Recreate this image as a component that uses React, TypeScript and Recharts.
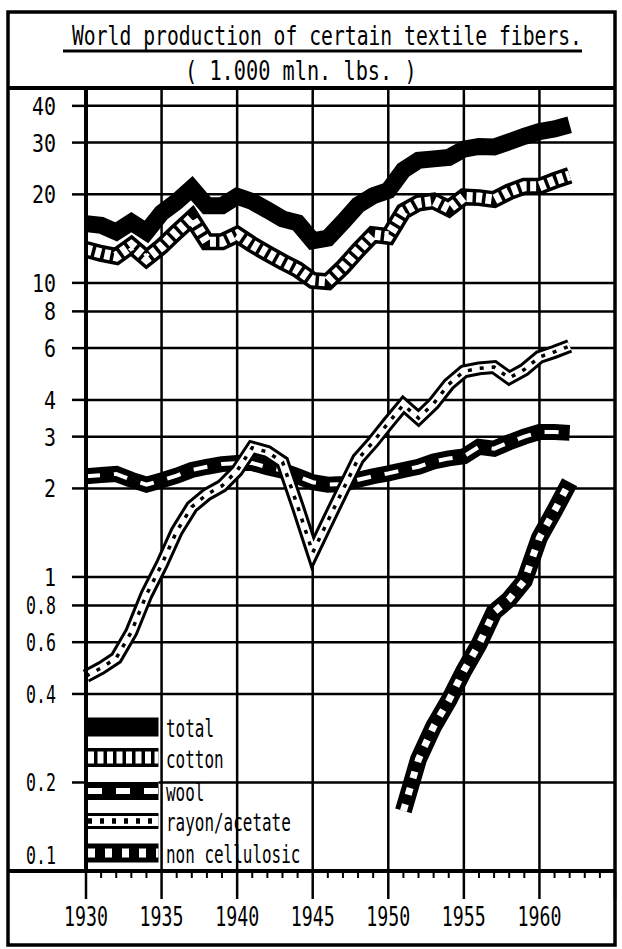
import React from "react";
import { LineChart, Line, XAxis, YAxis, CartesianGrid } from "recharts";

// world production, 1,000 mln lbs
const years = [
  1930, 1931, 1932, 1933, 1934, 1935, 1936, 1937, 1938, 1939, 1940,
  1941, 1942, 1943, 1944, 1945, 1946, 1947, 1948, 1949, 1950,
  1951, 1952, 1953, 1954, 1955, 1956, 1957, 1958, 1959, 1960, 1961, 1962,
];
const total = [
  15.9, 15.7, 14.9, 16.1, 14.9, 17.3, 18.9, 21.0, 18.3, 18.3, 19.7,
  18.9, 17.7, 16.5, 16.0, 13.9, 14.2, 16.1, 18.4, 19.8, 20.6,
  24.2, 26.1, 26.4, 26.7, 28.5, 29.1, 29.0, 30.2, 31.5, 32.7, 33.4, 34.5,
];
const cotton = [
  13.0, 12.6, 12.3, 13.4, 12.1, 13.3, 14.9, 16.6, 13.8, 13.8, 14.6,
  13.5, 12.6, 11.8, 11.1, 10.2, 10.1, 11.3, 12.9, 14.6, 14.4,
  17.5, 18.7, 19.0, 17.9, 19.6, 19.5, 19.2, 20.4, 21.3, 21.3, 22.3, 23.2,
];
const wool = [
  2.2, 2.22, 2.24, 2.14, 2.06, 2.13, 2.21, 2.31, 2.37, 2.42, 2.44,
  2.44, 2.36, 2.3, 2.2, 2.1, 2.06, 2.07, 2.14, 2.2, 2.25,
  2.31, 2.37, 2.47, 2.53, 2.57, 2.77, 2.73, 2.87, 3.0, 3.11, 3.11, 3.09,
];
const rayon = [
  0.46, 0.49, 0.53, 0.65, 0.87, 1.1, 1.43, 1.73, 1.91, 2.04, 2.3,
  2.75, 2.66, 2.46, 1.74, 1.21, 1.55, 1.98, 2.52, 2.88, 3.34,
  3.85, 3.47, 3.89, 4.52, 5.0, 5.12, 5.17, 4.75, 5.07, 5.6, 5.83, 6.1,
];
const nonCellYears = [1951, 1952, 1953, 1954, 1955, 1956, 1957, 1958, 1959, 1960, 1961, 1962];
const nonCell = [0.16, 0.24, 0.31, 0.38, 0.48, 0.59, 0.76, 0.84, 0.97, 1.36, 1.68, 2.1];

const yTicks = [0.1, 0.2, 0.4, 0.6, 0.8, 1, 2, 3, 4, 6, 8, 10, 20, 30, 40];
const xMajor = [1930, 1935, 1940, 1945, 1950, 1955, 1960];
const xTicks = Array.from({ length: 36 }, (_, i) => 1930 + i);

const data = years.map((year, i) => {
  const j = nonCellYears.indexOf(year);
  return {
    year,
    total: total[i],
    cotton: cotton[i],
    wool: wool[i],
    rayon: rayon[i],
    nonCell: j >= 0 ? nonCell[j] : null,
  };
});

const FONT = "'DejaVu Sans Mono', monospace";

type Layer = { stroke: string; width: number; dash?: string };

// each series is a stack of strokes to mimic the hatched bands
const LAYERS: Record<string, Layer[]> = {
  cotton: [
    { stroke: "#000", width: 17 },
    { stroke: "#fff", width: 10, dash: "6 3.5" },
  ],
  total: [{ stroke: "#000", width: 17 }],
  wool: [
    { stroke: "#000", width: 16 },
    { stroke: "#fff", width: 4, dash: "14 14" },
  ],
  rayon: [
    { stroke: "#000", width: 14 },
    { stroke: "#fff", width: 8 },
    { stroke: "#000", width: 3.5, dash: "4 8" },
  ],
  nonCell: [
    { stroke: "#000", width: 17 },
    { stroke: "#fff", width: 7, dash: "7 10" },
  ],
};

const LEGEND = [
  { key: "total", label: "total", y: 727 },
  { key: "cotton", label: "cotton", y: 757.5 },
  { key: "wool", label: "wool", y: 791 },
  { key: "rayon", label: "rayon/acetate", y: 821 },
  { key: "nonCell", label: "non cellulosic", y: 853 },
];

function XTick(props: any) {
  const { x, y, payload } = props;
  const v = payload.value;
  const major = v % 5 === 0;
  return (
    <g>
      <line x1={x} x2={x} y1={y} y2={y + (major ? 28 : 7)} stroke="#000" strokeWidth={major ? 2.5 : 2} />
      {major && v < 1965 && (
        <text x={x} y={y + 55} textAnchor="middle" fontFamily={FONT} fontSize={26}
          textLength={44} lengthAdjust="spacingAndGlyphs" fill="#000">
          {v}
        </text>
      )}
    </g>
  );
}

function YTick(props: any) {
  const { x, y, payload } = props;
  const v = payload.value;
  const label = String(v);
  const w = label.includes(".") ? 30 : label.length * 12;
  const lift = v === 0.1 ? -16 : 0;
  return (
    <text x={x} y={y + lift} dy={9} textAnchor="end" fontFamily={FONT} fontSize={25}
      textLength={w} lengthAdjust="spacingAndGlyphs" fill="#000">
      {label}
    </text>
  );
}

function seriesLines(key: string) {
  return LAYERS[key].map((l, i) => (
    <Line
      key={`${key}-${i}`}
      dataKey={key}
      type="linear"
      stroke={l.stroke}
      strokeWidth={l.width}
      strokeDasharray={l.dash}
      dot={false}
      activeDot={false}
      isAnimationActive={false}
    />
  ));
}

export default function App() {
  return (
    <div style={{ position: "relative", width: 622, height: 949, background: "#fff" }}>
      <style>{"body{margin:0}"}</style>
      <LineChart width={622} height={949} data={data} margin={{ top: 88, right: 7, bottom: 0, left: 0 }}>
        <CartesianGrid stroke="#000" strokeWidth={2.5} verticalValues={xMajor} horizontalValues={yTicks} />
        <XAxis
          dataKey="year"
          type="number"
          domain={[1930, 1965]}
          ticks={xTicks}
          interval={0}
          height={78}
          tickSize={0}
          tickMargin={0}
          tickLine={false}
          axisLine={{ stroke: "#000", strokeWidth: 4 }}
          tick={<XTick />}
        />
        <YAxis
          scale="log"
          domain={[0.1, 46]}
          ticks={yTicks}
          interval={0}
          width={86}
          allowDataOverflow
          tickSize={14}
          tickMargin={16}
          tickLine={{ stroke: "#000", strokeWidth: 2.5 }}
          axisLine={{ stroke: "#000", strokeWidth: 4 }}
          tick={<YTick />}
        />
        {seriesLines("cotton")}
        {seriesLines("total")}
        {seriesLines("wool")}
        {seriesLines("rayon")}
        {seriesLines("nonCell")}
      </LineChart>

      <svg width={622} height={949} style={{ position: "absolute", left: 0, top: 0, pointerEvents: "none" }}>
        <rect x={8} y={12} width={607} height={933} fill="none" stroke="#000" strokeWidth={3.5} />
        <line x1={8} x2={615} y1={88} y2={88} stroke="#000" strokeWidth={4} />
        <line x1={8} x2={615} y1={871} y2={871} stroke="#000" strokeWidth={4} />

        <text transform="translate(72,45) scale(0.73,1)" fontFamily={FONT} fontSize={27} fill="#000">
          World production of certain textile fibers.
        </text>
        <line x1={63} x2={582} y1={51} y2={51} stroke="#000" strokeWidth={3} />
        <text transform="translate(185,80) scale(0.75,1)" fontFamily={FONT} fontSize={27} fill="#000">
          ( 1.000 mln. lbs. )
        </text>

        <rect x={88} y={697} width={70.5} height={172} fill="#fff" />
        {LEGEND.map((row) => (
          <g key={row.key}>
            {LAYERS[row.key].map((l, i) => (
              <line key={i} x1={88} x2={158.5} y1={row.y} y2={row.y} stroke={l.stroke}
                strokeWidth={l.width + 2} strokeDasharray={l.dash} />
            ))}
            <text x={166} y={row.y + 10} fontFamily={FONT} fontSize={25}
              textLength={row.label.length * 9.6} lengthAdjust="spacingAndGlyphs" fill="#000">
              {row.label}
            </text>
          </g>
        ))}
      </svg>
    </div>
  );
}
